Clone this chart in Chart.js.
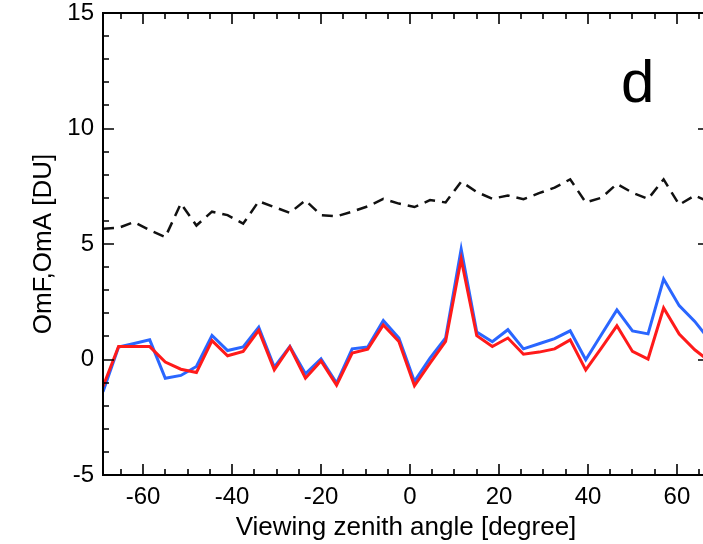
<!DOCTYPE html>
<html>
<head>
<meta charset="utf-8">
<script src="https://cdn.jsdelivr.net/npm/chart.js@4/dist/chart.umd.min.js"></script>
<style>
  html, body { margin: 0; padding: 0; background: #fff; overflow: hidden; }
</style>
</head>
<body>
<canvas id="chart" width="720" height="544"></canvas>
<script>
// viewing zenith angle of each bin [degree]
const angles = [-69, -65.5, -62, -58.5, -55, -51.5, -48, -44.5, -41, -37.5,
  -34, -30.5, -27, -23.5, -20, -16.5, -13, -9.5, -6, -2.5,
  1, 4.5, 8, 11.5, 15, 18.5, 22, 25.5, 29, 32.5,
  36, 39.5, 43, 46.5, 50, 53.5, 57, 60.5, 64, 67.5];

// OmF (blue)
const omf = [-1.4, 0.54, 0.69, 0.85, -0.81, -0.69, -0.3, 1.04, 0.39, 0.54,
  1.4, -0.33, 0.56, -0.62, 0.03, -1.02, 0.46, 0.54, 1.69, 0.93,
  -0.95, 0.06, 0.93, 4.78, 1.19, 0.77, 1.29, 0.46, 0.68, 0.9,
  1.24, -0.01, 1.07, 2.15, 1.24, 1.11, 3.48, 2.33, 1.65, 0.8];

// OmA (red)
const oma = [-1.17, 0.56, 0.56, 0.56, -0.11, -0.42, -0.56, 0.82, 0.16, 0.35,
  1.26, -0.45, 0.54, -0.81, -0.06, -1.11, 0.28, 0.45, 1.5, 0.78,
  -1.14, -0.16, 0.78, 4.35, 1.03, 0.56, 0.93, 0.23, 0.32, 0.46,
  0.85, -0.45, 0.49, 1.46, 0.35, 0.02, 2.23, 1.1, 0.42, -0.1];

// dashed black line
const dashed = [5.66, 5.7, 5.95, 5.6, 5.3, 6.75, 5.8, 6.4, 6.25, 5.88,
  6.85, 6.6, 6.35, 6.89, 6.25, 6.2, 6.4, 6.63, 6.95, 6.75,
  6.6, 6.9, 6.8, 7.7, 7.25, 6.96, 7.1, 6.94, 7.2, 7.44,
  7.8, 6.8, 7.0, 7.6, 7.22, 6.95, 7.8, 6.7, 7.1, 6.8];

const xTicks = [-60, -40, -20, 0, 20, 40, 60];
const yTicks = [-5, 0, 5, 10, 15];

const FONT = 'Liberation Sans, Arial, sans-serif';

function pts(ys) {
  return angles.map((a, i) => ({ x: a, y: ys[i] }));
}

// frame with inward ticks on all four sides + panel letter
const framePlugin = {
  id: 'frame',
  afterDatasetsDraw(chart) {
    const { ctx, chartArea: a, scales: { x, y } } = chart;
    ctx.save();
    ctx.strokeStyle = '#000';
    ctx.lineWidth = 2;
    ctx.strokeRect(a.left, a.top, a.right - a.left, a.bottom - a.top);

    ctx.lineWidth = 1.6;
    ctx.beginPath();
    for (let v = -65; v <= 65; v += 5) {
      const px = Math.round(x.getPixelForValue(v));
      const len = v % 20 === 0 ? 11 : 6;
      ctx.moveTo(px, a.bottom); ctx.lineTo(px, a.bottom - len);
      ctx.moveTo(px, a.top); ctx.lineTo(px, a.top + len);
    }
    for (let v = -4; v <= 14; v += 1) {
      const py = Math.round(y.getPixelForValue(v));
      const len = v % 5 === 0 ? 11 : 6;
      ctx.moveTo(a.left, py); ctx.lineTo(a.left + len, py);
      ctx.moveTo(a.right, py); ctx.lineTo(a.right - len, py);
    }
    ctx.stroke();

    ctx.fillStyle = '#000';
    ctx.font = '60px ' + FONT;
    ctx.textAlign = 'left';
    ctx.textBaseline = 'alphabetic';
    ctx.fillText('d', 621, 102);
    ctx.restore();
  }
};

new Chart(document.getElementById('chart'), {
  type: 'line',
  data: {
    datasets: [
      {
        label: 'OmA',
        data: pts(oma),
        borderColor: '#ff1a1a',
        borderWidth: 3,
        pointRadius: 0,
        tension: 0
      },
      {
        label: 'OmF',
        data: pts(omf),
        borderColor: '#2a66ff',
        borderWidth: 3,
        pointRadius: 0,
        tension: 0
      },
      {
        label: 'dashed',
        data: pts(dashed),
        borderColor: '#111',
        borderWidth: 2.5,
        borderDash: [11, 7],
        pointRadius: 0,
        tension: 0
      }
    ]
  },
  options: {
    responsive: false,
    animation: false,
    layout: { padding: { left: 0, top: 13, right: 11, bottom: 0 } },
    plugins: {
      legend: { display: false },
      tooltip: { enabled: false }
    },
    scales: {
      x: {
        type: 'linear',
        min: -69,
        max: 67.2,
        grid: { display: false, drawTicks: false },
        border: { display: false },
        afterBuildTicks: s => { s.ticks = xTicks.map(v => ({ value: v })); },
        afterFit: s => { s.height = 69; s.paddingLeft = 0; s.paddingRight = 0; },
        ticks: {
          padding: 8,
          color: '#000',
          font: { family: FONT, size: 24 }
        },
        title: {
          display: true,
          text: 'Viewing zenith angle [degree]',
          color: '#000',
          font: { family: FONT, size: 26 },
          padding: { top: 0, bottom: 1 }
        }
      },
      y: {
        min: -5,
        max: 15,
        grid: { display: false, drawTicks: false },
        border: { display: false },
        afterBuildTicks: s => { s.ticks = yTicks.map(v => ({ value: v })); },
        afterFit: s => { s.width = 103; s.paddingTop = 0; s.paddingBottom = 0; },
        ticks: {
          padding: 9,
          color: '#000',
          font: { family: FONT, size: 24 }
        },
        title: {
          display: true,
          text: 'OmF,OmA [DU]',
          color: '#000',
          font: { family: FONT, size: 26 },
          padding: { top: 28, bottom: 0 }
        }
      }
    }
  },
  plugins: [framePlugin]
});
</script>
</body>
</html>
